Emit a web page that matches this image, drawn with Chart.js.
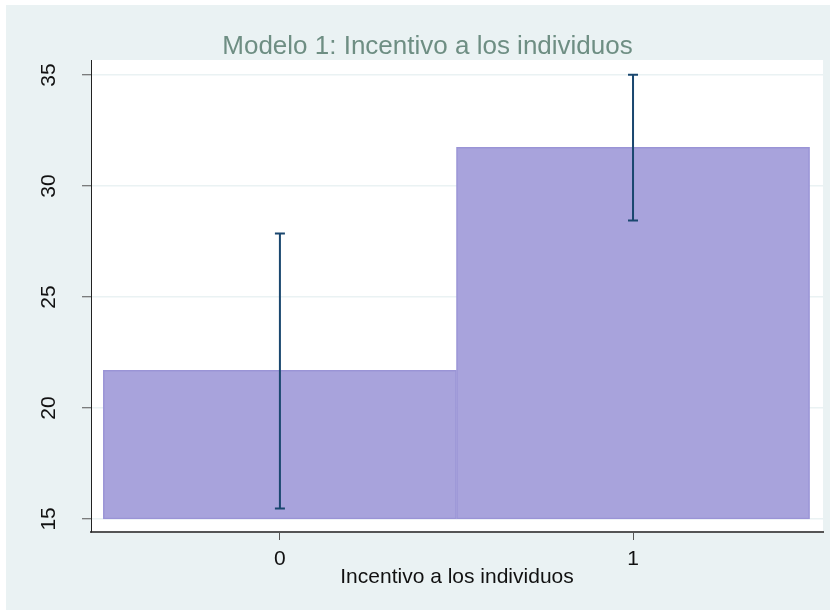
<!DOCTYPE html>
<html>
<head>
<meta charset="utf-8">
<script src="https://cdn.jsdelivr.net/npm/chart.js@4.4.0/dist/chart.umd.min.js"></script>
<style>
  html, body { margin: 0; padding: 0; background: #ffffff; overflow: hidden; }
  canvas { display: block; }
</style>
</head>
<body>
<canvas id="c" width="830" height="610"></canvas>
<script>
// Mean outcome by group, with confidence interval limits
const categories = ['0', '1'];
const means = [21.69, 31.75];
const ciLow = [15.47, 28.45];
const ciHigh = [27.86, 35.02];
const barBase = 15;

const FONT = "'Liberation Sans', Arial, Helvetica, sans-serif";

// Light frame, then the white plot region
const backdrop = {
  id: 'backdrop',
  beforeDraw(chart) {
    const { ctx, chartArea: a } = chart;
    ctx.save();
    ctx.fillStyle = '#ffffff';
    ctx.fillRect(0, 0, chart.width, chart.height);
    ctx.fillStyle = '#EAF2F3';
    ctx.fillRect(6, 5, chart.width - 6, chart.height - 5);
    ctx.fillStyle = '#ffffff';
    ctx.fillRect(a.left, a.top, a.right - a.left, a.bottom - a.top);
    ctx.restore();
  }
};

// Capped vertical interval for each group
const errorBars = {
  id: 'errorBars',
  afterDatasetsDraw(chart) {
    const { ctx, scales: { x, y } } = chart;
    ctx.save();
    ctx.strokeStyle = '#1A476F';
    ctx.lineWidth = 2;
    categories.forEach((c, i) => {
      const px = x.getPixelForValue(i);
      const lo = y.getPixelForValue(ciLow[i]);
      const hi = y.getPixelForValue(ciHigh[i]);
      ctx.beginPath();
      ctx.moveTo(px, lo); ctx.lineTo(px, hi);
      ctx.moveTo(px - 5, lo); ctx.lineTo(px + 5, lo);
      ctx.moveTo(px - 5, hi); ctx.lineTo(px + 5, hi);
      ctx.stroke();
    });
    ctx.restore();
  }
};

new Chart(document.getElementById('c'), {
  type: 'bar',
  data: {
    datasets: [{
      data: categories.map((c, i) => ({ x: i, y: [barBase, means[i]] })),
      backgroundColor: '#A8A3DC',
      borderColor: '#9A94D6',
      borderWidth: 1.5,
      borderSkipped: false,
      barPercentage: 1,
      categoryPercentage: 1
    }]
  },
  options: {
    responsive: false,
    animation: false,
    devicePixelRatio: 1,
    layout: { padding: { left: 32, right: 7, top: 0, bottom: 0 } },
    plugins: {
      legend: { display: false },
      tooltip: { enabled: false },
      title: {
        display: true,
        text: 'Modelo 1: Incentivo a los individuos',
        color: '#6E8E83',
        font: { family: FONT, size: 26, weight: 'normal', lineHeight: 1 },
        padding: { top: 34, bottom: 0 }
      }
    },
    scales: {
      x: {
        type: 'linear',
        min: -0.535,
        max: 1.538,
        offset: false,
        grid: { offset: false, drawOnChartArea: false, tickLength: 8, tickColor: '#555555', tickWidth: 1 },
        border: { color: '#555555', width: 2 },
        ticks: {
          stepSize: 1,
          includeBounds: false,
          maxRotation: 0,
          padding: 7,
          color: '#111111',
          font: { family: FONT, size: 21 },
          callback: v => categories[v]
        },
        title: {
          display: true,
          text: 'Incentivo a los individuos',
          color: '#111111',
          font: { family: FONT, size: 21 },
          padding: { top: 0, bottom: 20 }
        },
        afterFit(s) { s.height = 78; }
      },
      y: {
        type: 'linear',
        min: 14.41,
        max: 35.68,
        grid: { color: '#EAF2F3', lineWidth: 1.5, tickLength: 9, tickColor: '#555555', tickWidth: 1 },
        border: { color: '#222222', width: 1 },
        ticks: {
          stepSize: 5,
          includeBounds: false,
          minRotation: 90,
          maxRotation: 90,
          crossAlign: 'center',
          padding: 21,
          color: '#111111',
          font: { family: FONT, size: 21 }
        },
        afterFit(s) { s.width = 59; }
      }
    }
  },
  plugins: [backdrop, errorBars]
});
</script>
</body>
</html>
